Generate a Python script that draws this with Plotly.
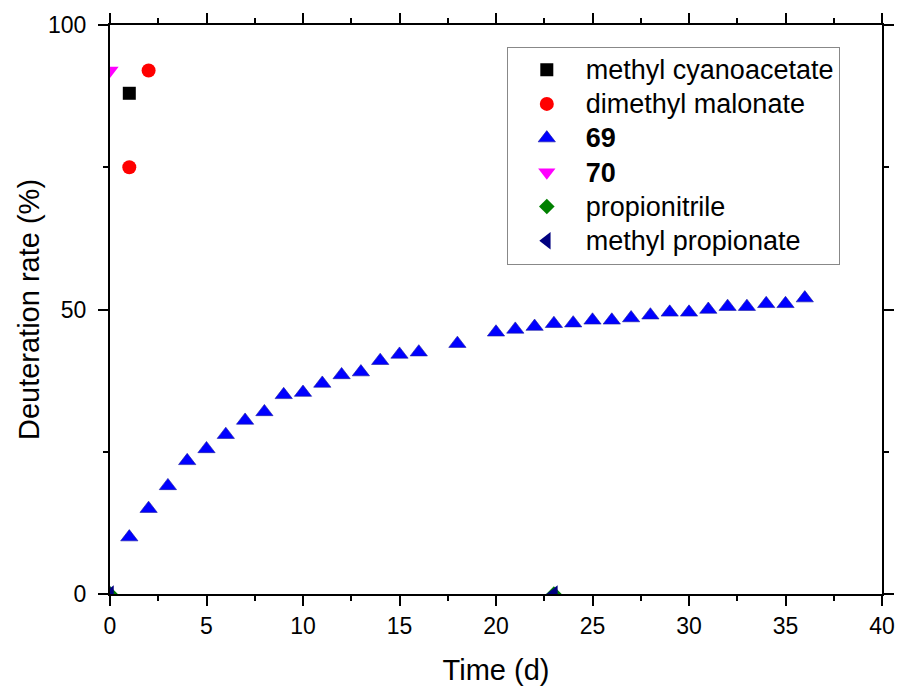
import plotly.graph_objects as go

# ---- data ----
mca_x = [1]
mca_y = [88]
dmm_x = [1, 2]
dmm_y = [75, 92]
c69_x = [0, 1, 2, 3, 4, 5, 6, 7, 8, 9, 10, 11, 12, 13, 14, 15, 16, 18,
         20, 21, 22, 23, 24, 25, 26, 27, 28, 29, 30, 31, 32, 33, 34, 35, 36]
c69_y = [0, 10.0, 15.0, 19.0, 23.4, 25.5, 28.0, 30.5, 32.0, 35.0, 35.4, 37.0, 38.5, 39.0,
         41.0, 42.1, 42.5, 44.0, 46.0, 46.5, 47.0, 47.5, 47.6, 48.1, 48.1, 48.5, 49.0,
         49.5, 49.5, 50.0, 50.5, 50.5, 51.0, 51.0, 52.0]
c70_x = [0]
c70_y = [92]
pn_x = [0, 23]
pn_y = [0, 0]
mp_x = [0, 23]
mp_y = [0, 0]

FONT = "Liberation Sans, Arial, sans-serif"


def lg(t):
    return '<span style="font-size:27px">' + t + '</span>'


fig = go.Figure()
fig.add_trace(go.Scatter(x=mca_x, y=mca_y, mode="markers", name=lg("methyl cyanoacetate"),
                         marker=dict(symbol="square", size=13, color="#000000")))
fig.add_trace(go.Scatter(x=dmm_x, y=dmm_y, mode="markers", name=lg("dimethyl malonate"),
                         marker=dict(symbol="circle", size=14, color="#FF0000")))
fig.add_trace(go.Scatter(x=c69_x, y=c69_y, mode="markers", name=lg("<b>69</b>"),
                         marker=dict(symbol="triangle-up", size=15, color="#0000FF",
                                     line=dict(width=0.6, color="#1a1aa0"))))
fig.add_trace(go.Scatter(x=c70_x, y=c70_y, mode="markers", name=lg("<b>70</b>"),
                         marker=dict(symbol="triangle-down", size=15, color="#FF00FF")))
fig.add_trace(go.Scatter(x=pn_x, y=pn_y, mode="markers", name=lg("propionitrile"),
                         marker=dict(symbol="diamond", size=12, color="#008000")))
fig.add_trace(go.Scatter(x=mp_x, y=mp_y, mode="markers", name=lg("methyl propionate"),
                         marker=dict(symbol="triangle-left", size=15, color="#000080")))

axis_common = dict(
    showline=True, linecolor="black", linewidth=2, mirror="ticks",
    ticks="outside", ticklen=10, tickwidth=2, tickcolor="black",
    showgrid=False, zeroline=False, automargin=False,
    tickfont=dict(family=FONT, size=23, color="black"),
)

fig.update_xaxes(**axis_common, range=[0, 40], tickvals=[0, 5, 10, 15, 20, 25, 30, 35, 40],
                 minor=dict(ticks="outside", ticklen=5, tickwidth=2, tickcolor="black", dtick=2.5, showgrid=False),
                 title=dict(text="Time (d)", font=dict(family=FONT, size=29, color="black"), standoff=26))
fig.update_yaxes(**axis_common, range=[0, 100], tickvals=[0, 50, 100], ticklabelstandoff=7,
                 minor=dict(ticks="outside", ticklen=5, tickwidth=2, tickcolor="black", dtick=25, showgrid=False),
                 title=dict(text="Deuteration rate (%)", font=dict(family=FONT, size=29, color="black"), standoff=0))

fig.update_layout(
    width=899, height=686,
    margin=dict(l=110, r=17, t=25, b=92),
    plot_bgcolor="white", paper_bgcolor="white",
    font=dict(family=FONT, color="black"),
    legend=dict(x=0.514, y=0.962, xanchor="left", yanchor="top",
                bgcolor="white", bordercolor="#888888", borderwidth=1,
                font=dict(family=FONT, size=24, color="black"),
                itemwidth=68, tracegroupgap=0),
    showlegend=True,
)

# remove the browser's default 8px body margin so the figure fills the window exactly
fig.write_html("out.html",
               config={"displayModeBar": False},
               post_script="document.body.style.margin='0';document.body.style.overflow='hidden';")
